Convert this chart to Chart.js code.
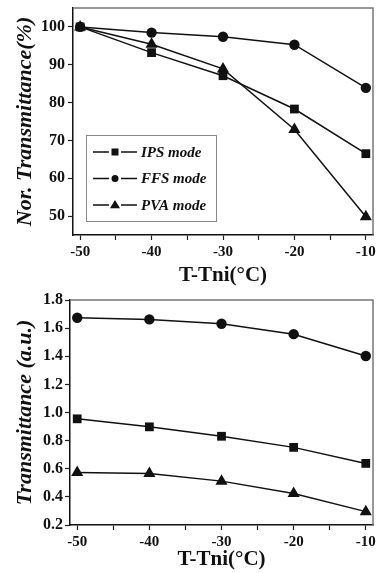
<!DOCTYPE html>
<html>
<head>
<meta charset="utf-8">
<script src="https://cdn.jsdelivr.net/npm/chart.js@4"></script>
<style>
  html, body { margin: 0; padding: 0; background: #fff; }
  .box { position: relative; width: 381px; }
  #top-box { height: 290px; }
  #bottom-box { height: 283px; }
</style>
</head>
<body>
<div class="box" id="top-box"><canvas id="top-chart"></canvas></div>
<div class="box" id="bottom-box"><canvas id="bottom-chart"></canvas></div>
<script>
// data ---------------------------------------------------------------
const temps = [-50, -40, -30, -20, -10]
const seriesNames = ['IPS mode', 'FFS mode', 'PVA mode']
const seriesStyles = ['rect', 'circle', 'triangle']

// normalized transmittance (%)
const norIps = [100, 93.2, 87.1, 78.3, 66.5]
const norFfs = [100, 98.5, 97.4, 95.3, 83.9]
const norPva = [100, 95.4, 88.9, 72.9, 49.8]

// transmittance (a.u.)
const trIps = [0.955, 0.898, 0.831, 0.752, 0.638]
const trFfs = [1.674, 1.662, 1.631, 1.557, 1.402]
const trPva = [0.574, 0.567, 0.512, 0.424, 0.295]

const xTicks = [-50, -45, -40, -35, -30, -25, -20, -15, -10]
const norTicks = [50, 60, 70, 80, 90, 100]
const trTicks = [0.2, 0.4, 0.6, 0.8, 1.0, 1.2, 1.4, 1.6, 1.8]

const serif = "'Liberation Serif', 'Times New Roman', serif"

function points(ys) {
    return temps.map((t, i) => ({ x: t, y: ys[i] }))
}

function makeDatasets(list) {
    return list.map((ys, i) => ({
        label: seriesNames[i],
        data: points(ys),
        borderColor: '#111',
        backgroundColor: '#111',
        borderWidth: 1.5,
        pointStyle: seriesStyles[i],
        pointRadius: seriesStyles[i] === 'triangle' ? 7 : (seriesStyles[i] === 'rect' ? 6.2 : 5.2),
        pointBorderWidth: 0,
        tension: 0
    }))
}

// gray frame on top / right
const frame = {
    id: 'frame',
    afterDraw(chart) {
        const { ctx, chartArea: { top, right, bottom, left } } = chart
        ctx.save()
        ctx.strokeStyle = '#777'
        ctx.lineWidth = 1.5
        ctx.beginPath()
        ctx.moveTo(left, top)
        ctx.lineTo(right, top)
        ctx.lineTo(right, bottom)
        ctx.stroke()
        ctx.restore()
    }
}

function marker(ctx, style, x, y, r) {
    ctx.beginPath()
    if (style === 'rect') {
        ctx.rect(x - r, y - r, 2 * r, 2 * r)
    } else if (style === 'circle') {
        ctx.arc(x, y, r, 0, Math.PI * 2)
    } else {
        ctx.moveTo(x, y - r * 1.2)
        ctx.lineTo(x + r * 1.2, y + r * 0.8)
        ctx.lineTo(x - r * 1.2, y + r * 0.8)
        ctx.closePath()
    }
    ctx.fill()
}

// legend box inside the top plot
const boxLegend = {
    id: 'boxLegend',
    afterDraw(chart) {
        const { ctx } = chart
        const x0 = 86, y0 = 135, w = 130, h = 86
        ctx.save()
        ctx.strokeStyle = '#888'
        ctx.lineWidth = 1
        ctx.strokeRect(x0 + 0.5, y0 + 0.5, w, h)
        ctx.font = `italic bold 15px ${serif}`
        ctx.textAlign = 'left'
        ctx.textBaseline = 'middle'
        chart.data.datasets.forEach((ds, i) => {
            const y = y0 + 17 + i * 26.5
            ctx.strokeStyle = '#111'
            ctx.fillStyle = '#111'
            ctx.lineWidth = 1.5
            ctx.beginPath()
            ctx.moveTo(93, y)
            ctx.lineTo(109, y)
            ctx.moveTo(121, y)
            ctx.lineTo(137, y)
            ctx.stroke()
            marker(ctx, ds.pointStyle, 115, y, ds.pointStyle === 'triangle' ? 4.2 : 3.5)
            ctx.fillText(ds.label, 141, y + 1)
        })
        ctx.restore()
    }
}

function makeOptions(cfg) {
    return {
        responsive: true,
        maintainAspectRatio: false,
        animation: false,
        layout: { padding: { top: cfg.top, right: 8, left: 0, bottom: 0 } },
        plugins: {
            legend: { display: false },
            tooltip: { enabled: false }
        },
        scales: {
            x: {
                type: 'linear',
                min: -51,
                max: -9,
                afterBuildTicks(scale) {
                    scale.ticks = xTicks.map(v => ({ value: v }))
                },
                afterFit(scale) {
                    scale.height = cfg.xHeight
                    scale.paddingLeft = 0
                    scale.paddingRight = 0
                },
                grid: {
                    drawOnChartArea: false,
                    drawTicks: true,
                    tickLength: 5,
                    tickColor: '#222',
                    tickWidth: 1.2
                },
                border: { color: '#111', width: 1.5 },
                ticks: {
                    padding: 3,
                    maxRotation: 0,
                    autoSkip: false,
                    color: '#111',
                    font: { family: serif, size: 15, weight: 'bold' },
                    callback: v => (v % 10 === 0 ? String(v) : '')
                },
                title: {
                    display: true,
                    text: 'T-Tni(°C)',
                    color: '#111',
                    font: { family: serif, size: 21, weight: 'bold' },
                    padding: { top: 0, bottom: cfg.xTitlePad }
                }
            },
            y: {
                min: cfg.yMin,
                max: cfg.yMax,
                afterBuildTicks(scale) {
                    scale.ticks = cfg.yTicks.map(v => ({ value: v }))
                },
                afterFit(scale) {
                    scale.width = cfg.yWidth
                    scale.paddingTop = 0
                    scale.paddingBottom = 0
                },
                grid: {
                    drawOnChartArea: false,
                    drawTicks: true,
                    tickLength: 5,
                    tickColor: '#222',
                    tickWidth: 1.2
                },
                border: { color: '#111', width: 1.5 },
                ticks: {
                    padding: cfg.yTickPad,
                    color: '#111',
                    font: { family: serif, size: 16, weight: 'bold' },
                    callback: cfg.yFormat
                },
                title: {
                    display: true,
                    text: cfg.yTitle,
                    color: '#111',
                    font: { family: serif, size: cfg.yTitleSize, weight: 'bold', style: 'italic' },
                    padding: { top: 12, bottom: 0 }
                }
            }
        }
    }
}

// TOP CHART ----------------------------------------------------------
new Chart(document.getElementById('top-chart'), {
    type: 'line',
    data: { datasets: makeDatasets([norIps, norFfs, norPva]) },
    options: makeOptions({
        top: 8, xHeight: 55, xTitlePad: 2,
        yMin: 45, yMax: 105, yTicks: norTicks, yWidth: 73, yTickPad: 3,
        yFormat: v => String(v),
        yTitle: 'Nor. Transmittance(%)', yTitleSize: 22
    }),
    plugins: [frame, boxLegend]
})

// BOTTOM CHART -------------------------------------------------------
new Chart(document.getElementById('bottom-chart'), {
    type: 'line',
    data: { datasets: makeDatasets([trIps, trFfs, trPva]) },
    options: makeOptions({
        top: 10, xHeight: 48, xTitlePad: 1,
        yMin: 0.2, yMax: 1.8, yTicks: trTicks, yWidth: 70, yTickPad: 2,
        yFormat: v => Number(v).toFixed(1),
        yTitle: 'Transmittance (a.u.)', yTitleSize: 22
    }),
    plugins: [frame]
})
</script>
</body>
</html>
